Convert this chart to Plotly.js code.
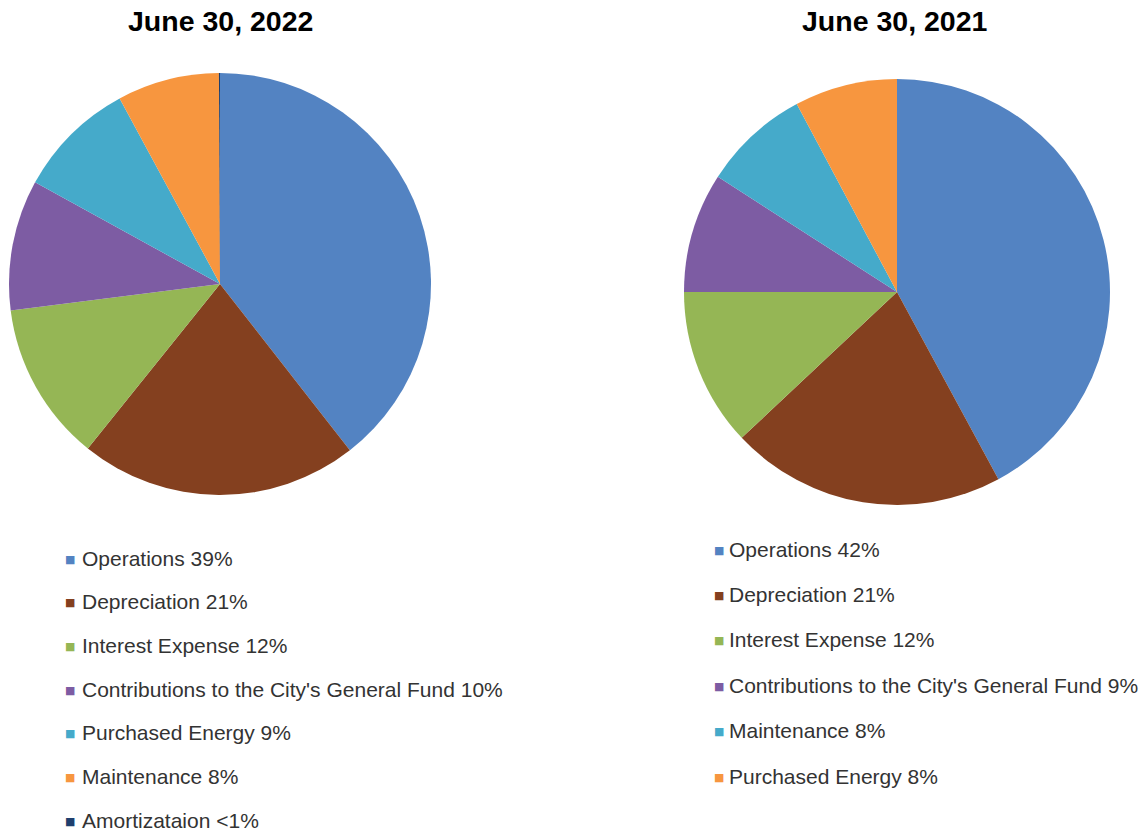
<!DOCTYPE html>
<html>
<head>
<meta charset="utf-8">
<script src="https://cdn.plot.ly/plotly-3.0.1.min.js"></script>
<style>html,body{margin:0;padding:0;background:#fff;}#chart{width:1143px;height:831px;}</style>
</head>
<body>
<div id="chart"></div>
<script>
// ---- Data ----
const title2022 = "June 30, 2022";
const labels2022 = ["Operations", "Depreciation", "Interest Expense", "Contributions to the City's General Fund", "Purchased Energy", "Maintenance", "Amortizataion"];
const values2022 = [39.4, 21.3, 12.2, 10.0, 9.1, 7.8, 0.08];
const pctText2022 = ["39%", "21%", "12%", "10%", "9%", "8%", "<1%"];

const title2021 = "June 30, 2021";
const labels2021 = ["Operations", "Depreciation", "Interest Expense", "Contributions to the City's General Fund", "Maintenance", "Purchased Energy"];
const values2021 = [42.1, 20.9, 12.0, 9.1, 8.1, 7.8];
const pctText2021 = ["42%", "21%", "12%", "9%", "8%", "8%"];

// slice colours by position
const sliceColors = ["#5383C2", "#84401F", "#95B655", "#7D5CA3", "#45AACA", "#F7963F", "#1F3F6E"];

// ---- Layout helpers ----
const W = 1143, H = 831;
const px = x => x / W;
const py = y => 1 - y / H;

const traces = [
  {
    type: "pie", labels: labels2022, values: values2022, sort: false,
    direction: "clockwise", rotation: 0, textinfo: "none", hoverinfo: "label+percent",
    marker: { colors: sliceColors, line: { width: 0 } },
    domain: { x: [px(9), px(431)], y: [py(495), py(73)] },
    showlegend: false
  },
  {
    type: "pie", labels: labels2021, values: values2021, sort: false,
    direction: "clockwise", rotation: 0, textinfo: "none", hoverinfo: "label+percent",
    marker: { colors: sliceColors, line: { width: 0 } },
    domain: { x: [px(684), px(1110)], y: [py(505), py(79)] },
    showlegend: false
  }
];

const annotations = [];
const titleFont = { family: "Liberation Sans, Arial, sans-serif", size: 28.5, color: "#000" };
annotations.push({ text: "<b>" + title2022 + "</b>", x: px(220), y: py(21), xref: "paper", yref: "paper", xanchor: "center", yanchor: "middle", showarrow: false, font: titleFont });
annotations.push({ text: "<b>" + title2021 + "</b>", x: px(895), y: py(21), xref: "paper", yref: "paper", xanchor: "center", yanchor: "middle", showarrow: false, font: titleFont });

function addLegend(labels, pcts, markerX, textX, y0, dy) {
  labels.forEach((lab, i) => {
    const y = y0 + i * dy;
    annotations.push({ text: "■", x: px(markerX), y: py(y + 1), xref: "paper", yref: "paper", xanchor: "center", yanchor: "middle", showarrow: false, font: { family: "DejaVu Sans", size: 11, color: sliceColors[i] } });
    annotations.push({ text: lab + " " + pcts[i], x: px(textX), y: py(y), xref: "paper", yref: "paper", xanchor: "left", yanchor: "middle", showarrow: false, font: { family: "Liberation Sans, Arial, sans-serif", size: 21, color: "#333" } });
  });
}
addLegend(labels2022, pctText2022, 70, 80, 558, 43.7);
addLegend(labels2021, pctText2021, 719, 727, 549, 45.4);

const layout = {
  width: W, height: H,
  margin: { l: 0, r: 0, t: 0, b: 0 },
  paper_bgcolor: "#fff",
  showlegend: false,
  annotations: annotations
};

Plotly.newPlot("chart", traces, layout, { displayModeBar: false, staticPlot: true });
</script>
</body>
</html>
